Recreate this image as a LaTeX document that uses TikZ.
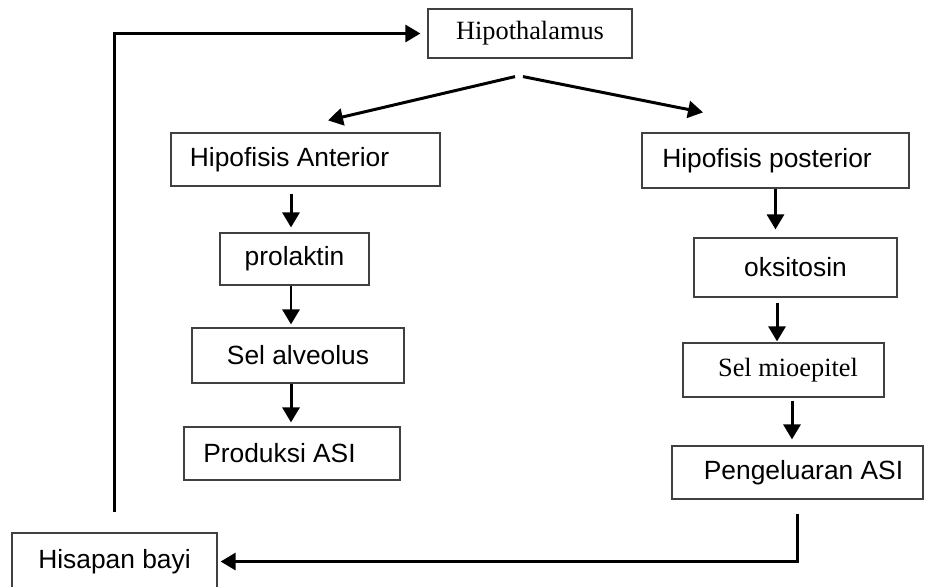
\documentclass[tikz,border=0pt]{standalone}
\usepackage{fontspec}
\setsansfont{Liberation Sans}
\newfontfamily\timesfont{Liberation Serif}
\usetikzlibrary{arrows.meta}
\usetikzlibrary{positioning}

\begin{document}
\begin{tikzpicture}[x=0.02cm,y=-0.02cm]
                \tikzstyle{box}=[draw=black!75, line width=0.7pt, rectangle, inner sep=0pt,
                                 font=\sffamily\fontsize{15}{18}\selectfont]
                \tikzstyle{serif}=[font=\timesfont\fontsize{15}{18}\selectfont]
                \tikzstyle{arr}=[line width=1.7pt, -{Triangle[length=0.3cm,width=0.34cm]}]
                \useasboundingbox (0,0) rectangle (925,586);

                \node[box,serif, minimum width=4.08cm, minimum height=0.98cm] (hypo) at (530,33.5) {Hipothalamus};
                \node[box, minimum width=5.38cm, minimum height=1.06cm] (hant) at (305.5,159.5) {Hipofisis Anterior\hspace*{0.64cm}};
                \node[box, minimum width=5.34cm, minimum height=1.10cm] (hpos) at (775.5,160.5) {Hipofisis posterior\hspace*{0.34cm}};
                \node[box, minimum width=2.98cm, minimum height=1.04cm] (prol) at (294.5,259) {prolaktin};
                \node[box, minimum width=4.24cm, minimum height=1.10cm] (alve) at (298,355.5) {Sel alveolus};
                \node[box, minimum width=4.32cm, minimum height=1.06cm] (prod) at (292,453.5) {Produksi ASI\hspace*{0.5cm}};
                \node[box, minimum width=4.06cm, minimum height=1.18cm] (oksi) at (795.5,267.5) {oksitosin};
                \node[box,serif, minimum width=4.02cm, minimum height=1.08cm] (mioe) at (783.5,370) {\hspace*{0.18cm}Sel mioepitel};
                \node[box, minimum width=5.02cm, minimum height=1.06cm] (peng) at (797.5,472.5) {\hspace*{0.24cm}Pengeluaran ASI};
                \node[box, minimum width=4.10cm, minimum height=1.14cm] (hisa) at (114.5,561.5) {Hisapan bayi};

                \draw[arr] ([xshift=-0.3cm,yshift=-0.36cm]hypo.south) -- ([xshift=0.45cm,yshift=0.24cm]hant.north);
                \draw[arr] ([xshift=-0.14cm,yshift=-0.36cm]hypo.south) -- ([xshift=-1.45cm,yshift=0.4cm]hpos.north);

                \draw[arr, shorten >=0.1cm] ([xshift=-0.29cm,yshift=-0.14cm]hant.south) -- ([xshift=-0.29cm]hant.south |- prol.north);
                \draw[arr, shorten >=0.06cm] ([xshift=-0.07cm]prol.south) -- ([xshift=-0.07cm]prol.south |- alve.north);
                \draw[arr, shorten >=0.08cm] ([xshift=-0.14cm]alve.south) -- ([xshift=-0.14cm]alve.south |- prod.north);

                \draw[arr, shorten >=0.16cm] (hpos.south) -- (hpos.south |- oksi.north);
                \draw[arr, shorten >=0.02cm] ([xshift=-0.37cm,yshift=-0.1cm]oksi.south) -- ([xshift=-0.37cm]oksi.south |- mioe.north);
                \draw[arr, shorten >=0.12cm] ([xshift=0.17cm,yshift=-0.06cm]mioe.south) -- ([xshift=0.17cm]mioe.south |- peng.north);

                \draw[arr, shorten >=0.06cm] ([yshift=-0.28cm]peng.south) |- (hisa.east);
                \draw[arr, shorten >=0.14cm] ([yshift=0.4cm]hisa.north) |- (hypo.west);
            \end{tikzpicture}
\end{document}
